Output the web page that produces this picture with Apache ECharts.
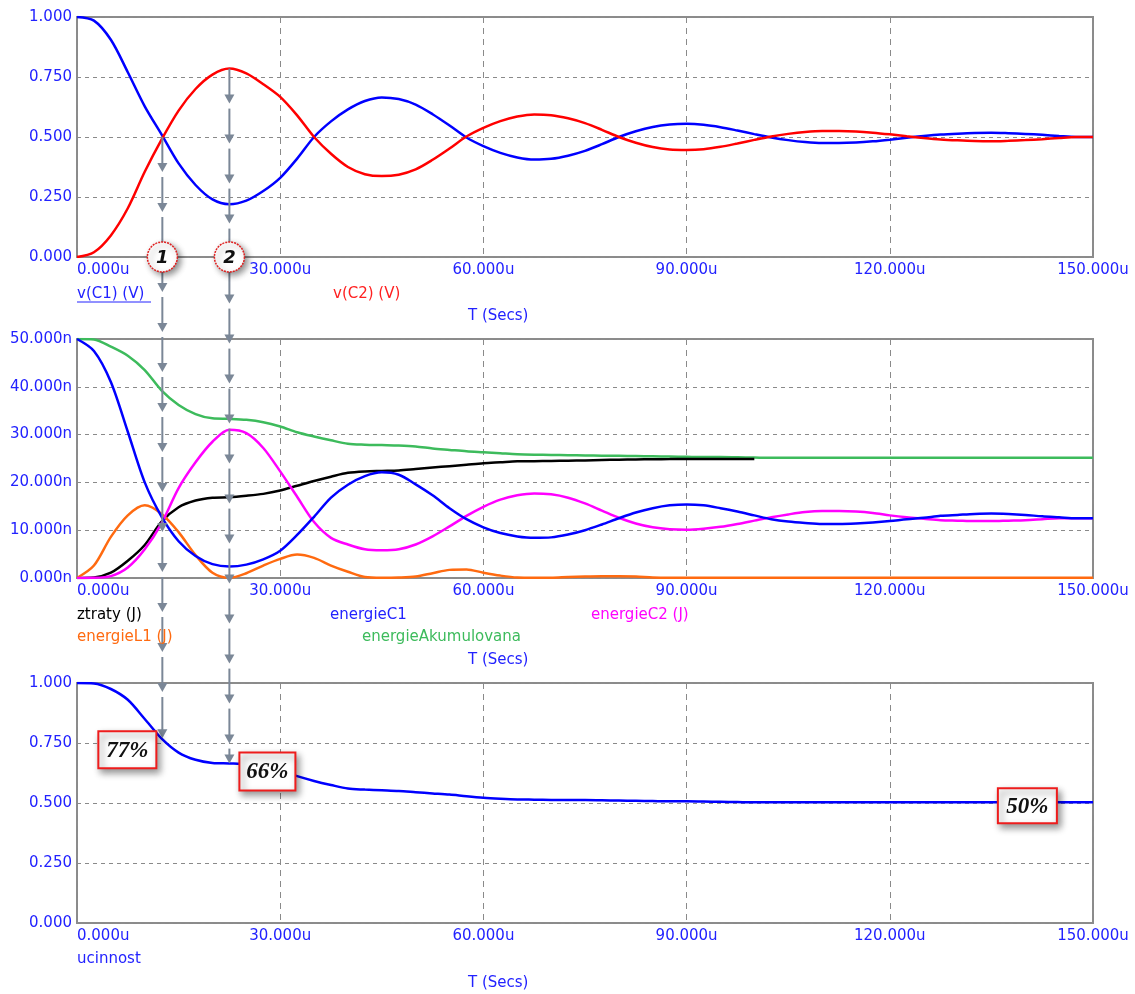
<!DOCTYPE html>
<html><head><meta charset="utf-8">
<script src="https://cdn.jsdelivr.net/npm/echarts@6/dist/echarts.min.js"></script>
<style>html,body{margin:0;padding:0;background:#fff}#c{width:1135px;height:994px}</style>
</head><body><div id="c"></div>
<script>
// ---- data (time in microseconds, sampled every 2.5u) ----
const T = [0,2.5,5,7.5,10,12.5,15,17.5,20,22.5,25,27.5,30,32.5,35,37.5,40,42.5,45,47.5,
           50,52.5,55,57.5,60,62.5,65,67.5,70,72.5,75,77.5,80,82.5,85,87.5,90,92.5,95,97.5,
           100,102.5,105,107.5,110,112.5,115,117.5,120,122.5,125,127.5,130,132.5,135,137.5,140,142.5,145,147.5,150];
// panel 1 : voltages (V)
const vC1 = [1.000,0.985,0.905,0.770,0.628,0.510,0.390,0.300,0.240,0.220,0.235,0.275,0.330,0.410,0.500,0.565,0.615,0.650,0.665,0.658,
             0.635,0.595,0.548,0.498,0.462,0.434,0.415,0.406,0.409,0.422,0.442,0.470,0.500,0.524,0.542,0.552,0.555,0.551,0.541,0.527,
             0.512,0.498,0.487,0.479,0.475,0.475,0.477,0.482,0.489,0.497,0.504,0.510,0.514,0.517,0.518,0.516,0.513,0.509,0.504,0.500,0.500];
const vC2 = [0.000,0.020,0.090,0.203,0.355,0.490,0.610,0.700,0.760,0.785,0.765,0.720,0.667,0.590,0.500,0.430,0.375,0.345,0.337,0.343,
             0.365,0.405,0.452,0.502,0.538,0.566,0.585,0.594,0.591,0.578,0.558,0.530,0.500,0.476,0.458,0.448,0.446,0.449,0.459,0.473,
             0.488,0.502,0.513,0.521,0.525,0.525,0.523,0.518,0.511,0.503,0.496,0.490,0.486,0.483,0.482,0.484,0.487,0.491,0.496,0.500,0.500];
// panel 2 : energies (nJ)
const ztraty = [0,0.1,1.1,3.6,6.9,11.8,14.8,16.2,16.8,16.9,17.2,17.6,18.3,19.3,20.3,21.2,22.0,22.3,22.4,22.5,
                22.8,23.1,23.4,23.7,24.0,24.2,24.4,24.45,24.5,24.55,24.6,24.7,24.75,24.8,24.85,24.87,24.9,24.9,24.9,24.9,24.9];
const energieL1 = [0,2.6,8.6,13.1,15.2,13.4,9.6,4.8,1.1,0.05,1.0,2.6,4.0,4.9,4.2,2.6,1.3,0.2,0.05,0.1,
                   0.3,1.0,1.7,1.8,1.1,0.5,0.1,0.05,0.05,0.2,0.3,0.35,0.35,0.3,0.1,0.05,0.05,0.05,0.05,0.05,
                   0.05,0.05,0.05,0.05,0.05,0.05,0.05,0.05,0.05,0.05,0.05,0.05,0.05,0.05,0.05,0.05,0.05,0.05,0.05,0.05,0.05];
const energieC1 = [50,47.5,41.0,30.6,20.0,12.8,7.7,4.6,2.9,2.4,2.8,3.9,5.7,9.0,12.8,16.8,19.5,21.3,22.1,21.6,
                   19.6,17.3,14.6,12.3,10.6,9.4,8.7,8.4,8.5,9.1,10.0,11.2,12.5,13.7,14.6,15.2,15.4,15.2,14.6,13.9,
                   13.1,12.3,11.8,11.5,11.3,11.3,11.4,11.6,11.9,12.3,12.6,13.0,13.2,13.4,13.5,13.4,13.2,12.9,12.7,12.5,12.5];
const energieAkumulovana = [50,49.9,48.4,46.5,43.5,39.2,36.2,34.3,33.4,33.3,33.1,32.6,31.7,30.5,29.6,28.8,28.1,27.9,27.8,27.7,
                   27.5,27.1,26.8,26.5,26.3,26.1,25.9,25.8,25.75,25.7,25.65,25.6,25.55,25.5,25.45,25.4,25.35,25.3,25.3,25.25,
                   25.2,25.15,25.15,25.15,25.15,25.15,25.15,25.15,25.15,25.15,25.15,25.15,25.15,25.15,25.15,25.15,25.15,25.15,25.15,25.15,25.15];
const energieC2 = [0,0.03,0.4,2.2,6.0,11.5,18.8,24.2,28.5,31.0,30.3,27.2,22.3,17.0,11.7,8.4,7.0,6.0,5.8,6.0,
                   7.0,8.7,10.8,13.0,14.9,16.4,17.3,17.7,17.5,16.8,15.6,14.1,12.6,11.4,10.6,10.2,10.1,10.3,10.7,11.3,
                   12.0,12.7,13.3,13.8,14.0,14.0,13.9,13.6,13.1,12.7,12.4,12.1,12.0,11.9,11.9,12.0,12.1,12.3,12.5,12.5,12.5];
// panel 3 : efficiency
const ucinnost = [1.000,0.998,0.975,0.930,0.850,0.768,0.710,0.680,0.667,0.665,0.662,0.652,0.635,0.612,0.592,0.575,0.560,0.556,0.553,0.550,
                  0.545,0.540,0.535,0.528,0.522,0.518,0.515,0.514,0.513,0.512,0.512,0.511,0.510,0.509,0.508,0.507,0.507,0.506,0.505,0.504,
                  0.503,0.503,0.503,0.503,0.503,0.503,0.503,0.503,0.503,0.503,0.503,0.503,0.503,0.503,0.503,0.503,0.503,0.503,0.503,0.503,0.503];
// annotations
const markT = [12.6, 22.5];            // arrow times
const markLabel = ['1','2'];
const markTopV = [0.5, 0.785];          // start value in panel 1
const markBotV = [0.77, 0.665];         // end value in panel 3
const boxText = ['77%','66%','50%'];
const boxT = [12.6, 22.5, 139.5];
const boxV = [0.77, 0.665, 0.503];

const BLUE = '#2222ff';
const FONT = 'DejaVu Sans';
const GRIDC = '#8a8a8a';

function pairs(ys){ return ys.map((y,i)=>[T[i],y]); }

function xAxis(gi){
  return {type:'value', gridIndex:gi, min:0, max:150, interval:30,
    axisLine:{show:false}, axisTick:{show:false},
    axisLabel:{color:BLUE, fontFamily:FONT, fontSize:15, margin:6,
      formatter:v=>v.toFixed(3)+'u', alignMinLabel:'left', showMinLabel:true, showMaxLabel:true},
    splitLine:{show:true, lineStyle:{color:GRIDC, type:[6,5], width:1}}};
}
function yAxis(gi, max, interval, suffix){
  return {type:'value', gridIndex:gi, min:0, max:max, interval:interval,
    axisLine:{show:false}, axisTick:{show:false},
    axisLabel:{color:BLUE, fontFamily:FONT, fontSize:15, margin:5,
      formatter:v=>v.toFixed(3)+suffix},
    splitLine:{show:true, lineStyle:{color:GRIDC, type:[4,4], width:1}}};
}
function line(name, gi, data, color, z){
  return {name:name, type:'line', xAxisIndex:gi, yAxisIndex:gi, data:data,
    showSymbol:false, smooth:0.3, animation:false, z:z||2,
    lineStyle:{color:color, width:2.5}};
}

const chart = echarts.init(document.getElementById('c'));
const gridBase = {left:77, width:1016, show:true, borderColor:'#8c8c8c', borderWidth:2, containLabel:false};
chart.setOption({
  animation:false,
  backgroundColor:'#fff',
  grid:[
    Object.assign({top:17, height:240}, gridBase),
    Object.assign({top:339, height:239}, gridBase),
    Object.assign({top:683, height:240}, gridBase)
  ],
  xAxis:[xAxis(0), xAxis(1), xAxis(2)],
  yAxis:[yAxis(0,1,0.25,''), yAxis(1,50,10,'n'), yAxis(2,1,0.25,'')],
  series:[
    line('v(C1) (V)',0,pairs(vC1),'#0000ff'),
    line('v(C2) (V)',0,pairs(vC2),'#ff0000',3),
    line('energieAkumulovana',1,pairs(energieAkumulovana),'#3dbb5c'),
    line('ztraty (J)',1,pairs(ztraty),'#000000'),
    line('energieL1 (J)',1,pairs(energieL1),'#ff6a10'),
    line('energieC2 (J)',1,pairs(energieC2),'#ff00ff'),
    line('energieC1',1,pairs(energieC1),'#0000ff'),
    line('ucinnost',2,pairs(ucinnost),'#0000ff')
  ]
});

// ---- text labels & annotations ----
const g = [];
function txt(x,y,s,color){
  g.push({type:'text', x:x, y:y, z:50, style:{text:s, fill:color, font:'15px "DejaVu Sans"', textVerticalAlign:'middle'}});
}
txt(77,294,'v(C1) (V)',BLUE);
g.push({type:'line', z:50, shape:{x1:77,y1:302,x2:151,y2:302}, style:{stroke:BLUE, lineWidth:1}});
txt(333,294,'v(C2) (V)','#ff2020');
txt(468,316,'T (Secs)',BLUE);
txt(77,615,'ztraty (J)','#000');
txt(330,615,'energieC1',BLUE);
txt(591,615,'energieC2 (J)','#ff00ff');
txt(77,637,'energieL1 (J)','#ff6a10');
txt(362,637,'energieAkumulovana','#3dbb5c');
txt(468,660,'T (Secs)',BLUE);
txt(77,959,'ucinnost',BLUE);
txt(468,983,'T (Secs)',BLUE);

const AC = '#7b8797';
function arrowColumn(x, y0, y1){
  const L = 39;
  let s = y0;
  while (s < y1 - 2) {
    let e = Math.min(s + L - 4, y1);
    if (y1 - e < 10) e = y1;
    g.push({type:'line', z:40, shape:{x1:x,y1:s,x2:x,y2:e-4}, style:{stroke:AC, lineWidth:2}});
    g.push({type:'polygon', z:40, shape:{points:[[x-5,e-9],[x+5,e-9],[x,e]]}, style:{fill:AC}});
    s = e + 5;
  }
}
markT.forEach((t,i)=>{
  const p0 = chart.convertToPixel({gridIndex:0},[t, markTopV[i]]);
  const p1 = chart.convertToPixel({gridIndex:2},[t, markBotV[i]]);
  arrowColumn(p0[0], p0[1], p1[1]);
  const pc = chart.convertToPixel({gridIndex:0},[t, 0]);
  g.push({type:'circle', z:60, shape:{cx:pc[0], cy:pc[1], r:15},
    style:{fill:'#fff', stroke:'#e02020', lineWidth:1.5, lineDash:[2,1], shadowBlur:6, shadowOffsetX:3, shadowOffsetY:3, shadowColor:'rgba(0,0,0,0.45)'}});
  g.push({type:'text', z:61, x:pc[0], y:pc[1]+1, style:{text:markLabel[i], fill:'#111', font:'italic bold 18px "DejaVu Sans"', textAlign:'center', textVerticalAlign:'middle'}});
});
const boxOff = [[-64,-7,58,37],[10,-11,56,38],[-24,-14,59,35]];
boxText.forEach((s,i)=>{
  const p = chart.convertToPixel({gridIndex:2},[boxT[i], boxV[i]]);
  const o = boxOff[i];
  g.push({type:'rect', z:70, shape:{x:p[0]+o[0], y:p[1]+o[1], width:o[2], height:o[3]},
    style:{fill:'#fff', stroke:'#ee1c1c', lineWidth:2, shadowBlur:7, shadowOffsetX:3, shadowOffsetY:4, shadowColor:'rgba(0,0,0,0.45)'}});
  g.push({type:'text', z:71, x:p[0]+o[0]+o[2]/2, y:p[1]+o[1]+o[3]/2+1,
    style:{text:s, fill:'#111', font:'italic bold 23px "Liberation Serif"', textAlign:'center', textVerticalAlign:'middle'}});
});
chart.setOption({graphic:g});
</script></body></html>
